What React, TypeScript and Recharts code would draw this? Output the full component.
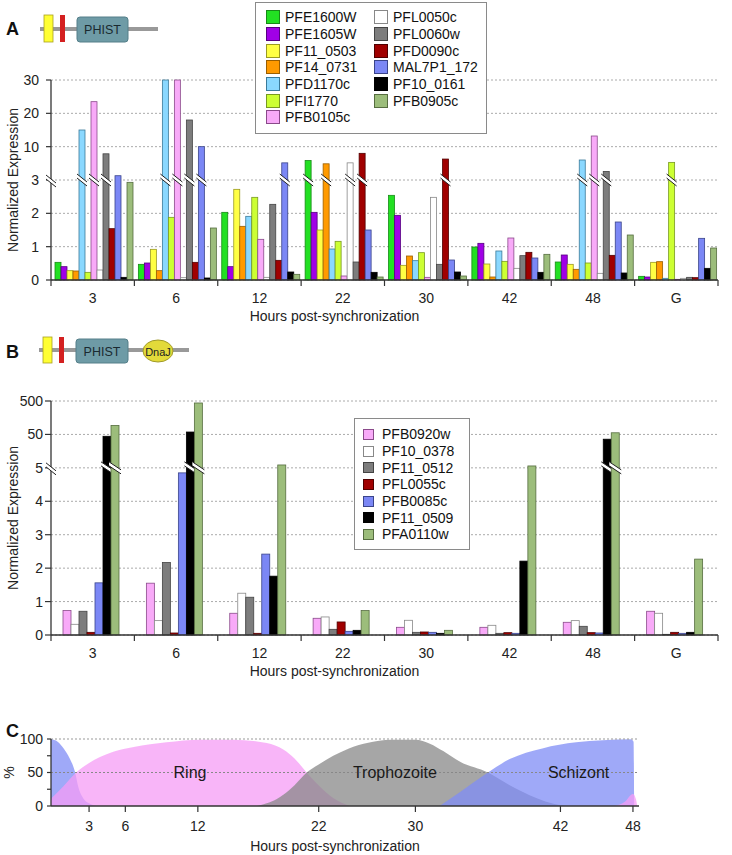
import {
  BarChart, Bar, XAxis, YAxis, CartesianGrid, Legend, Label,
  AreaChart, Area, ReferenceLine, ReferenceDot,
} from 'recharts';

const HOURS = ['3', '6', '12', '22', '30', '42', '48', 'G'];

// Panel A — PHIST genes, normalized expression per time point
const pfe1600w = [0.53, 0.47, 2.03, 7.1, 2.54, 0.99, 0.54, 0.11];
const pfe1605w = [0.4, 0.51, 0.4, 2.03, 1.94, 1.1, 0.75, 0.09];
const pf11_0503 = [0.28, 0.92, 2.72, 1.5, 0.44, 0.48, 0.47, 0.53];
const pf14_0731 = [0.27, 0.28, 1.61, 6.4, 0.72, 0.09, 0.32, 0.55];
const pfd1170c = [15, 30, 1.91, 0.93, 0.58, 0.87, 7.2, 0.05];
const pfi1770 = [0.23, 1.88, 2.48, 1.16, 0.82, 0.56, 0.51, 6.7];
const pfb0105c = [23.5, 30, 1.22, 0.12, 0.08, 1.26, 13.2, 0.02];
const pfl0050c = [0.3, 0.07, 0.08, 6.6, 2.48, 0.35, 0.2, 0.05];
const pfl0060w = [8.5, 18, 2.27, 0.54, 0.47, 0.73, 4.8, 0.08];
const pfd0090c = [1.54, 0.53, 0.59, 8.6, 7.4, 0.83, 0.74, 0.07];
const mal7p1_172 = [3.9, 10, 6.6, 1.5, 0.6, 0.66, 1.74, 1.25];
const pf10_0161 = [0.08, 0.06, 0.24, 0.23, 0.24, 0.23, 0.21, 0.35];
const pfb0905c = [2.93, 1.56, 0.17, 0.09, 0.12, 0.77, 1.35, 0.96];

const GENES_A = [
  'PFE1600W', 'PFE1605W', 'PF11_0503', 'PF14_0731', 'PFD1170c', 'PFI1770', 'PFB0105c',
  'PFL0050c', 'PFL0060w', 'PFD0090c', 'MAL7P1_172', 'PF10_0161', 'PFB0905c',
];
const VALUES_A = [
  pfe1600w, pfe1605w, pf11_0503, pf14_0731, pfd1170c, pfi1770, pfb0105c,
  pfl0050c, pfl0060w, pfd0090c, mal7p1_172, pf10_0161, pfb0905c,
];
const TICKS_A = ['0', '1', '2', '3', '10', '20', '30'];

// Panel B — PHIST + DnaJ genes
const pfb0920w = [0.73, 1.55, 0.65, 0.5, 0.23, 0.23, 0.38, 0.71];
const pf10_0378 = [0.32, 0.43, 1.25, 0.54, 0.44, 0.29, 0.43, 0.65];
const pf11_0512 = [0.71, 2.17, 1.13, 0.17, 0.08, 0.05, 0.26, 0.02];
const pfl0055c = [0.08, 0.06, 0.05, 0.39, 0.09, 0.07, 0.07, 0.08];
const pfb0085c = [1.56, 4.85, 2.42, 0.11, 0.08, 0.05, 0.06, 0.05];
const pf11_0509 = [44, 59, 1.76, 0.14, 0.05, 2.21, 36, 0.08];
const pfa0110w = [93, 436, 6.1, 0.73, 0.14, 5.7, 56, 2.27];

const GENES_B = ['PFB0920w', 'PF10_0378', 'PF11_0512', 'PFL0055c', 'PFB0085c', 'PF11_0509', 'PFA0110w'];
const VALUES_B = [pfb0920w, pf10_0378, pf11_0512, pfl0055c, pfb0085c, pf11_0509, pfa0110w];
const TICKS_B = ['0', '1', '2', '3', '4', '5', '50', '500'];

// Panel C — stage percentages, [hours, %]
const schizontEarly: [number, number][] = [
  [-0.15, 100], [0.4, 96], [0.9, 86], [1.4, 71], [1.85, 50], [2.1, 29], [2.5, 12], [3.0, 4], [3.6, 0],
];
const ring: [number, number][] = [
  [-0.15, 11], [0.9, 30], [2.0, 51], [3.0, 64], [3.9, 73], [5, 81], [6.7, 88], [9.4, 95], [12.2, 99],
  [14.9, 99], [17.7, 94], [19.1, 84], [20.0, 71], [21.0, 50], [22.1, 29], [23.2, 12], [24.6, 0],
];
const trophozoite: [number, number][] = [
  [16.9, 0], [17.7, 4], [18.5, 10], [19.1, 17], [20, 31], [21, 50], [22, 62], [23.2, 75], [24.5, 86],
  [26, 94], [28, 99], [30, 99], [31.2, 93], [32.3, 82], [33.7, 66], [36, 50], [37.8, 31], [40, 12],
  [41.5, 3], [42.5, 0],
];
const schizont: [number, number][] = [
  [32.0, 0], [33.7, 21], [36, 50], [37.8, 70], [40.5, 86], [43.3, 95], [45.5, 98], [47.8, 99.5],
  [48.05, 96], [48.1, 0],
];
const ringLate: [number, number][] = [[46.5, 0], [47.3, 6], [48.0, 18], [48.25, 10], [48.35, 0]];
const C_TICKS = [3, 6, 12, 22, 30, 42, 48];

const COLOR: Record<string, [string, string]> = {
  PFE1600W: ['#22e022', '#178a17'],
  PFE1605W: ['#a000e6', '#560080'],
  PF11_0503: ['#ffff44', '#9a9a22'],
  PF14_0731: ['#ff9a00', '#9a5e00'],
  PFD1170c: ['#8ad8ff', '#3a7a9a'],
  PFI1770: ['#ccff33', '#789922'],
  PFB0105c: ['#f8aaf8', '#8a4a8a'],
  PFL0050c: ['#ffffff', '#888888'],
  PFL0060w: ['#7d7d7d', '#444444'],
  PFD0090c: ['#a00000', '#500000'],
  MAL7P1_172: ['#7b87f5', '#3a448a'],
  PF10_0161: ['#000000', '#000000'],
  PFB0905c: ['#9cbd7b', '#566d40'],
  PFB0920w: ['#f8aaf8', '#8a4a8a'],
  PF10_0378: ['#ffffff', '#888888'],
  PF11_0512: ['#7d7d7d', '#444444'],
  PFL0055c: ['#a00000', '#500000'],
  PFB0085c: ['#7b87f5', '#3a448a'],
  PF11_0509: ['#000000', '#000000'],
  PFA0110w: ['#9cbd7b', '#566d40'],
};

// broken axes: A is linear to 3, then one step per 3→10→20→30; B linear to 5, then log steps
const toA = (v: number) => (v <= 3 ? v : v <= 10 ? 3 + (v - 3) / 7 : 4 + (v - 10) / 10);
const toB = (v: number) => (v <= 5 ? v : 5 + Math.log10(v / 5));

const rowsFor = (genes: string[], values: number[][], conv: (v: number) => number) =>
  HOURS.map((h, i) => {
    const row: Record<string, any> = { hour: h };
    genes.forEach((g, k) => { row[g] = conv(values[k][i]); });
    return row;
  });

const pts = (a: [number, number][]) => a.map(([h, p]) => ({ h, p }));

const FONT = 'Liberation Sans, Arial, Helvetica, sans-serif';
const PLOT_L = 51;
const PLOT_R = 718;
const BAND = (PLOT_R - PLOT_L) / HOURS.length;

function BreakMark({ cx, cy, half }: { cx: number; cy: number; half: number }) {
  const l = cx - half;
  const r = cx + half;
  return (
    <g>
      <polygon points={`${l},${cy - 6} ${r},${cy + 2} ${r},${cy + 6} ${l},${cy - 2}`} fill="#fff" />
      <line x1={l} y1={cy - 6} x2={r} y2={cy + 2} stroke="#222" strokeWidth={1} />
      <line x1={l} y1={cy - 2} x2={r} y2={cy + 6} stroke="#222" strokeWidth={1} />
    </g>
  );
}

function BrokenBar(p: any) {
  const { x, y, width, height, v, brk, fill, edge } = p;
  if (!height || height <= 0) return null;
  const yb = y + height - (brk * height) / v;
  return (
    <g>
      <rect x={x} y={y} width={width} height={height} fill={fill} stroke={edge} strokeWidth={0.8} />
      {v > brk + 0.2 && <BreakMark cx={x + width / 2} cy={yb} half={width / 2 + 2} />}
    </g>
  );
}

function CatTick(p: any) {
  const { x, y, payload, index } = p;
  const h = BAND / 2;
  return (
    <g>
      <line x1={x - h} x2={x - h} y1={y} y2={y + 6} stroke="#333" strokeWidth={1.2} />
      {index === HOURS.length - 1 && (
        <line x1={x + h} x2={x + h} y1={y} y2={y + 6} stroke="#333" strokeWidth={1.2} />
      )}
      <text x={x} y={y + 18} textAnchor="middle" dominantBaseline="central" fontSize={14} fill="#222">
        {payload.value}
      </text>
    </g>
  );
}

const makeYTick = (labels: string[], brk: number, size: number, gap: number) => (p: any) => {
  const { x, y, payload } = p;
  return (
    <g>
      <text x={x} y={y} textAnchor="end" dominantBaseline="central" fontSize={14} fill="#222">
        {labels[payload.value]}
      </text>
      {payload.value === brk && <BreakMark cx={x + size + gap} cy={y + 1} half={5} />}
    </g>
  );
};

function GeneLegend({ genes, rows, cols, swatch, gap, pad, w, h }: any) {
  return (
    <div style={{
      boxSizing: 'border-box', width: w, height: h, border: '1px solid #8a8a8a', background: '#fff',
      padding: `${pad[0]}px 0 0 ${pad[1]}px`, display: 'grid', gridAutoFlow: 'column',
      gridTemplateRows: `repeat(${rows}, 16.7px)`, gridTemplateColumns: cols, fontFamily: FONT,
    }}>
      {genes.map((g: string) => (
        <div key={g} style={{ display: 'flex', alignItems: 'center', fontSize: 14, color: '#111', whiteSpace: 'nowrap' }}>
          <span style={{
            width: swatch, height: swatch, boxSizing: 'border-box', flex: 'none',
            background: COLOR[g][0], border: `1px solid ${COLOR[g][1]}`, marginRight: gap,
          }} />
          {g}
        </div>
      ))}
    </div>
  );
}

function BarPanel({ genes, values, conv, labels, brk, height, top, catGap, tickGap, tickSize, legend }: any) {
  const data = rowsFor(genes, values, conv);
  const max = labels.length - 1;
  return (
    <BarChart width={732} height={height} data={data} barGap={0} barCategoryGap={catGap}
      margin={{ top, right: 732 - PLOT_R, bottom: 0, left: 0 }}>
      <CartesianGrid vertical={false} strokeDasharray="2 2" stroke="#aaa" />
      <XAxis dataKey="hour" height={45} interval={0} tickSize={0} tickMargin={0} tickLine={false}
        axisLine={{ stroke: '#333', strokeWidth: 1.3 }} tick={<CatTick />}>
        <Label value="Hours post-synchronization" position="insideBottom" offset={4} dx={-50}
          fontSize={14} fill="#222" />
      </XAxis>
      <YAxis type="number" domain={[0, max]} ticks={labels.map((_: string, i: number) => i)} interval={0}
        width={PLOT_L} tickSize={tickSize} tickMargin={tickGap}
        tickLine={{ stroke: '#333', strokeWidth: 1.2 }} axisLine={{ stroke: '#333', strokeWidth: 1.3 }}
        tick={makeYTick(labels, brk, tickSize, tickGap)}>
        <Label value="Normalized Expression" angle={-90} position="insideLeft" offset={13}
          fontSize={14} fill="#222" style={{ textAnchor: 'middle' }} />
      </YAxis>
      <Legend layout="horizontal" verticalAlign="middle" align="center"
        wrapperStyle={{ left: legend.left, top: legend.top }}
        content={() => <GeneLegend genes={genes} {...legend} />} />
      {genes.map((g: string) => (
        <Bar key={g} dataKey={g} fill={COLOR[g][0]} stroke={COLOR[g][1]} isAnimationActive={false}
          shape={(p: any) => <BrokenBar {...p} v={p.payload[g]} brk={brk} fill={COLOR[g][0]} edge={COLOR[g][1]} />} />
      ))}
    </BarChart>
  );
}

function StageChart() {
  const areas: [[number, number][], string][] = [
    [schizontEarly, '#7f8cf5'],
    [ring, '#f59cf5'],
    [trophozoite, '#888888'],
    [schizont, '#7f8cf5'],
    [ringLate, '#f59cf5'],
  ];
  const stageLabel = { position: 'center' as const, fontSize: 16, fill: '#1a1a1a' };
  return (
    <AreaChart width={732} height={175} margin={{ top: 59, right: 93, bottom: 0, left: 0 }}>
      <XAxis dataKey="h" type="number" domain={[-0.15, 48.5]} ticks={C_TICKS} interval={0} allowDataOverflow
        height={49} tickSize={6} tickMargin={9} tick={{ fontSize: 14, fill: '#222' }}
        tickLine={{ stroke: '#333', strokeWidth: 1.2 }} axisLine={{ stroke: '#333', strokeWidth: 1.3 }}>
        <Label value="Hours post-synchronization" position="insideBottom" offset={4} dx={-10}
          fontSize={14} fill="#222" />
      </XAxis>
      <YAxis type="number" domain={[0, 100]} ticks={[0, 25, 50, 75, 100]} interval={0} width={PLOT_L}
        tickSize={4} tickMargin={4} tick={{ fontSize: 14, fill: '#222' }}
        tickFormatter={(v: number) => (v % 50 === 0 ? String(v) : '')}
        tickLine={{ stroke: '#333', strokeWidth: 1.2 }} axisLine={{ stroke: '#333', strokeWidth: 1.3 }}>
        <Label value="%" angle={-90} position="insideLeft" offset={9} fontSize={14} fill="#222"
          style={{ textAnchor: 'middle' }} />
      </YAxis>
      {areas.map(([a, c], i) => (
        <Area key={i} data={pts(a)} dataKey="p" type="monotone" fill={c} fillOpacity={0.75}
          stroke="none" isAnimationActive={false} />
      ))}
      <ReferenceLine y={100} stroke="#999" strokeDasharray="2 2" />
      <ReferenceLine y={50} stroke="#888" strokeDasharray="2 2" />
      <ReferenceDot x={11.35} y={50} r={0} label={{ value: 'Ring', ...stageLabel }} />
      <ReferenceDot x={28.3} y={50} r={0} label={{ value: 'Trophozoite', ...stageLabel }} />
      <ReferenceDot x={43.5} y={50} r={0} label={{ value: 'Schizont', ...stageLabel }} />
    </AreaChart>
  );
}

function Diagrams() {
  return (
    <svg width={732} height={855} style={{ position: 'absolute', left: 0, top: 0, pointerEvents: 'none' }}>
      <g fontFamily={FONT} fontWeight="bold" fontSize={18} fill="#111">
        <text x={6} y={35}>A</text>
        <text x={6} y={358}>B</text>
        <text x={6} y={737}>C</text>
      </g>
      {/* domain sketch A */}
      <line x1={40} x2={158} y1={29} y2={29} stroke="#999" strokeWidth={4} />
      <rect x={44} y={15} width={9} height={27} fill="#ffff33" stroke="#a8a020" strokeWidth={0.8} />
      <rect x={60} y={15} width={5} height={27} fill="#d42020" />
      <rect x={77} y={17} width={51} height={25} rx={3} fill="#6e9ba6" stroke="#557f89" />
      <text x={102.5} y={30} textAnchor="middle" dominantBaseline="central" fontSize={12.5} fill="#1a2a30" fontFamily={FONT}>PHIST</text>
      {/* domain sketch B */}
      <line x1={39} x2={189} y1={350} y2={350} stroke="#999" strokeWidth={4} />
      <rect x={43} y={337} width={9} height={26} fill="#ffff33" stroke="#a8a020" strokeWidth={0.8} />
      <rect x={59} y={337} width={5} height={26} fill="#d42020" />
      <rect x={76} y={339} width={52} height={24} rx={3} fill="#6e9ba6" stroke="#557f89" />
      <text x={102} y={351.5} textAnchor="middle" dominantBaseline="central" fontSize={12.5} fill="#1a2a30" fontFamily={FONT}>PHIST</text>
      <ellipse cx={158} cy={351} rx={15} ry={11} fill="#e3da3a" stroke="#a09a2a" />
      <text x={158} y={351.5} textAnchor="middle" dominantBaseline="central" fontSize={11} fill="#222" fontFamily={FONT}>DnaJ</text>
    </svg>
  );
}

export default function App() {
  return (
    <div style={{ position: 'absolute', left: 0, top: 0, width: 732, height: 855, background: '#fff', fontFamily: FONT }}>
      <div style={{ position: 'absolute', left: 0, top: 0 }}>
        <BarPanel genes={GENES_A} values={VALUES_A} conv={toA} labels={TICKS_A} brk={3}
          height={325} top={80} catGap={4} tickSize={5} tickGap={7}
          legend={{ left: 255, top: 2, w: 232, h: 132, rows: 7, cols: '108px 112px', swatch: 14, gap: 5, pad: [6, 10] }} />
      </div>
      <div style={{ position: 'absolute', left: 0, top: 325 }}>
        <BarPanel genes={GENES_B} values={VALUES_B} conv={toB} labels={TICKS_B} brk={5}
          height={355} top={76} catGap={12} tickSize={6} tickGap={2}
          legend={{ left: 354, top: 93, w: 116, h: 132, rows: 7, cols: '110px', swatch: 11, gap: 8, pad: [7, 8] }} />
      </div>
      <div style={{ position: 'absolute', left: 0, top: 680 }}>
        <StageChart />
      </div>
      <Diagrams />
    </div>
  );
}
